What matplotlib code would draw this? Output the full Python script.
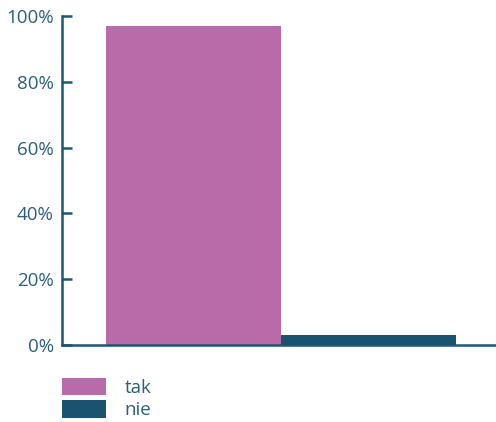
import matplotlib
matplotlib.use("Agg")
import matplotlib.pyplot as plt

categories = ["tak", "nie"]
values = [97, 3]
colors = ["#B96BA9", "#1A5270"]
yticks = [0, 20, 40, 60, 80, 100]
ytick_labels = ["0%", "20%", "40%", "60%", "80%", "100%"]

axis_color = "#1D5673"
text_color = "#2B5E7A"

plt.rcParams["font.family"] = ["Open Sans", "DejaVu Sans"]

fig = plt.figure(figsize=(4.96, 4.22), dpi=100)
ax = fig.add_axes([62 / 496, (422 - 345) / 422, (496 - 62) / 496, (345 - 16) / 422])

positions = [-0.5, 0.5]
bars = []
for pos, val, col, lab in zip(positions, values, colors, categories):
    b = ax.bar(pos, val, width=1.0, color=col, label=lab)
    bars.append(b)

ax.set_xlim(-0.5 - 0.5 - 44 / 175, 0.5 + 0.5 + 40 / 175)
ax.set_ylim(0, 100)
ax.set_yticks(yticks)
ax.set_yticklabels(ytick_labels)
ax.set_xticks([])

for s in ["top", "right"]:
    ax.spines[s].set_visible(False)
for s in ["left", "bottom"]:
    ax.spines[s].set_color(axis_color)
    ax.spines[s].set_linewidth(1.8)

ax.tick_params(axis="y", direction="in", length=7, width=1.8, color=axis_color,
               labelcolor=text_color, labelsize=13.5, pad=6)

leg = fig.legend(handles=[b[0] for b in bars], labels=categories,
                 loc="upper left", bbox_to_anchor=(54 / 496, 1 - 370 / 422),
                 frameon=False, fontsize=13.5, handlelength=2.35, handleheight=1.05,
                 handletextpad=1.0, labelspacing=0.2, borderaxespad=0)
for t in leg.get_texts():
    t.set_color(text_color)

fig.savefig("out.png", dpi=100)
